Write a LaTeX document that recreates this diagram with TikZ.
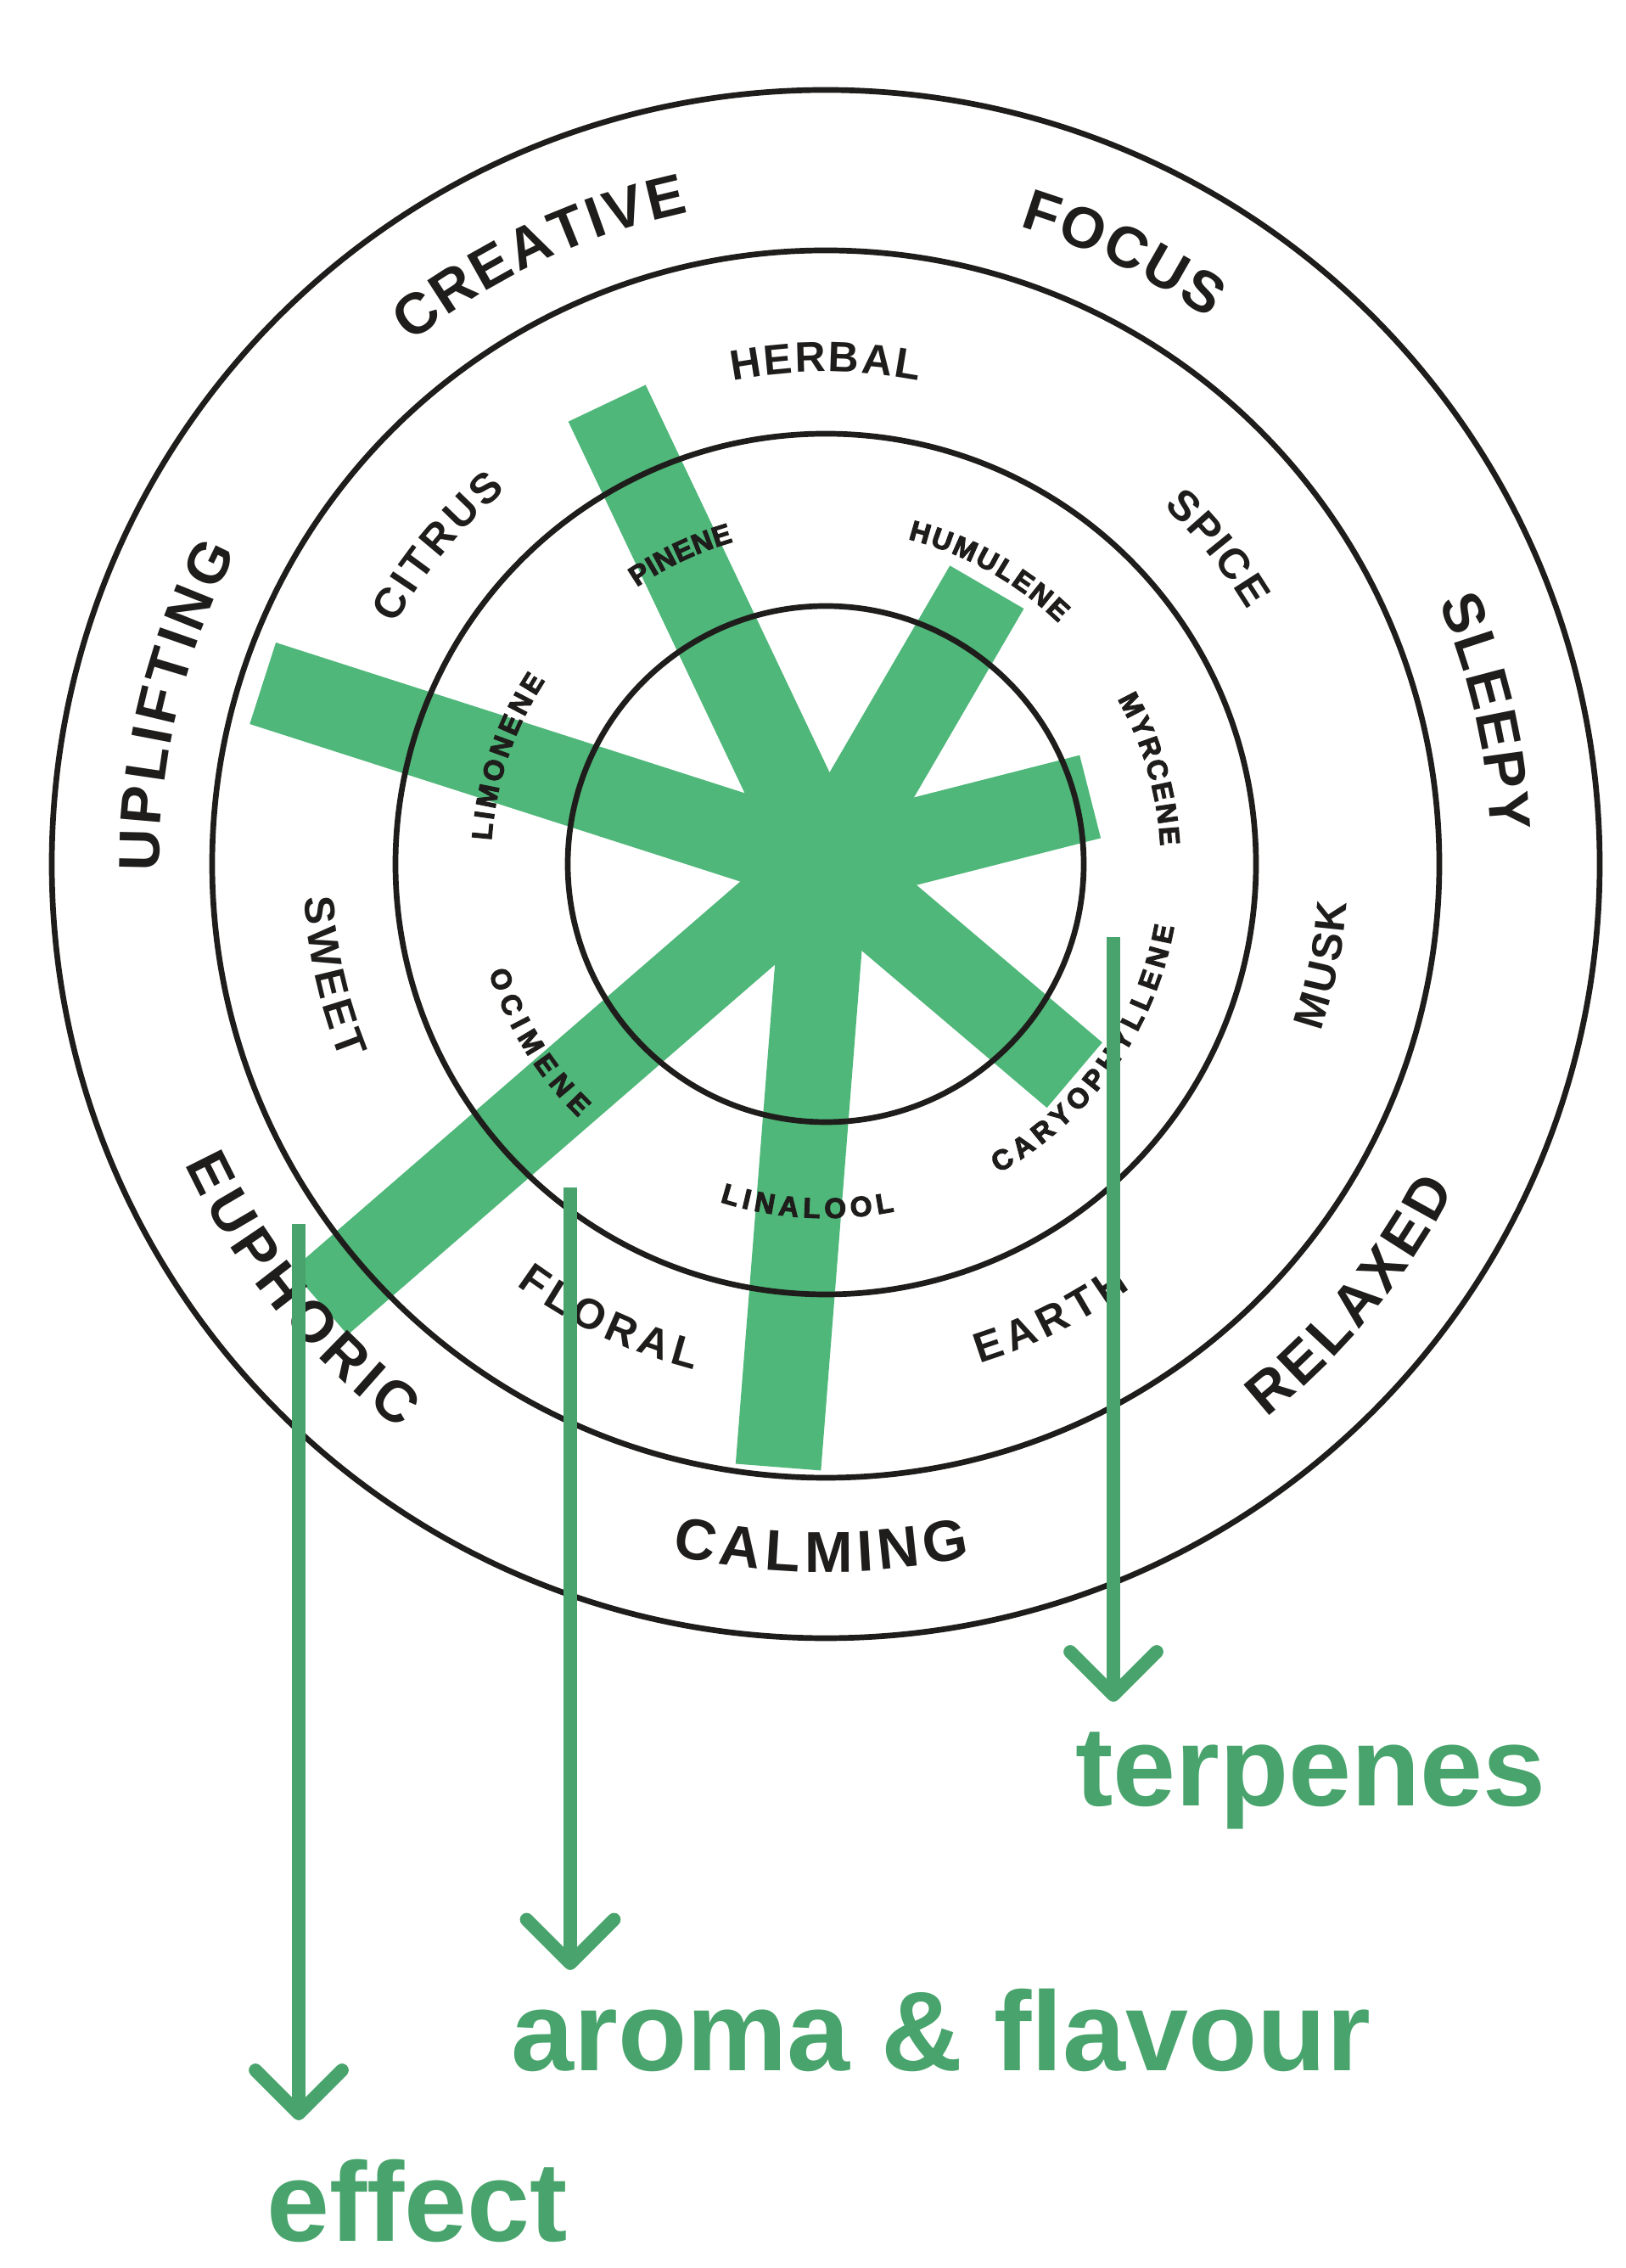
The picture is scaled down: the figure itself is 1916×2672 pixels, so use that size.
\documentclass[tikz,border=0pt]{standalone}
\usepackage{fontspec}
\setmainfont{Liberation Sans}
\newfontfamily\labfont{Liberation Sans}
\newfontfamily\terpfont{Liberation Sans}[BoldFeatures={FakeBold=3.5}]
\usetikzlibrary{decorations.text}
\definecolor{ink}{HTML}{1F1D1B}
\definecolor{stargreen}{HTML}{4FB779}
\definecolor{arrowgreen}{HTML}{48A46C}
\newcommand{\ringAfont}{\labfont\bfseries\fontsize{34}{34}\selectfont}
\newcommand{\ringBfont}{\labfont\bfseries\fontsize{25}{25}\selectfont}
\newcommand{\ringCfont}{\terpfont\bfseries\fontsize{16.5}{16.5}\selectfont}
\newcommand{\arclabel}[5]{%
  \path[decorate, decoration={text along path, text={|#1|#5}, text align={fit to path}, text color=ink}]
    (#3:#2) arc[start angle=#3, end angle=#4, radius=#2];}
\tikzset{
  ring/.style={draw=ink, line width=3.35pt},
  arm/.style={draw=stargreen, line width=50.4pt, line cap=butt},
  pointer/.style={draw=arrowgreen, line width=7.85pt, line cap=butt},
  chevron/.style={draw=arrowgreen, line width=7.85pt, line cap=round, line join=round},
  caption/.style={anchor=base west, inner sep=0pt, text=arrowgreen,
    font=\labfont\bfseries\fontsize{66.5}{66.5}\selectfont}
}
\begin{document}
\begin{tikzpicture}[x=0.5pt, y=0.5pt]
\fill[white] (0,0) rectangle (1916,2672);
\path[use as bounding box] (0,0) rectangle (1916,2672);
\begin{scope}[shift={(973,1654)}]
  \coordinate (C) at (0,0);
  % star
  \draw[arm] (C) -- (115.4:601) coordinate (pinEnd);
  \draw[arm] (C) -- (59.8:377.5) coordinate (humEnd);
  \draw[arm] (C) -- (14.3:321.6) coordinate (myrEnd);
  \draw[arm] (C) -- (-40.3:384.5) coordinate (carEnd);
  \draw[arm] (C) -- (-94.5:712.7) coordinate (linEnd);
  \draw[arm] (C) -- (220.9:789) coordinate (ociEnd);
  \draw[arm] (C) -- (162.2:696.7) coordinate (limEnd);
  % rings
  \draw[ring] (C) circle[radius=912];
  \draw[ring] (C) circle[radius=723];
  \draw[ring] (C) circle[radius=507];
  \draw[ring] (C) circle[radius=304];
  % effect ring
  \arclabel{\ringAfont}{785}{128.5}{101.9}{CREATIVE}
  \arclabel{\ringAfont}{785}{73.1}{54.9}{FOCUS}
  \arclabel{\ringAfont}{785}{23.1}{2.8}{SLEEPY}
  \arclabel{\ringAfont}{785}{180.6}{152.1}{UPLIFTING}
  \arclabel{\ringAfont}{834}{-51.5}{-27.3}{RELAXED}
  \arclabel{\ringAfont}{834}{-102.6}{-78.2}{CALMING}
  \arclabel{\ringAfont}{834}{205.1}{233}{EUPHORIC}
  % aroma ring
  \arclabel{\ringBfont}{580}{100.85}{79.1}{HERBAL}
  \arclabel{\ringBfont}{580}{46.6}{31.05}{SPICE}
  \arclabel{\ringBfont}{580}{150.9}{130.5}{CITRUS}
  \arclabel{\ringBfont}{616}{-18.7}{-4.2}{MUSK}
  \arclabel{\ringBfont}{616}{-72.9}{-54.3}{EARTH}
  \arclabel{\ringBfont}{616}{-126.3}{-104.6}{FLORAL}
  \arclabel{\ringBfont}{616}{183.7}{202}{SWEET}
  % terpene ring
  \arclabel{\ringCfont}{395}{124.3}{106.0}{PINENE}
  \arclabel{\ringCfont}{395}{75.8}{46.0}{HUMULENE}
  \arclabel{\ringCfont}{395}{29.5}{3.1}{MYRCENE}
  \arclabel{\ringCfont}{395}{176}{146.8}{LIMONENE}
  \arclabel{\ringCfont}{417}{-60.8}{-10.2}{CARYOPHYLLENE}
  \arclabel{\ringCfont}{417}{-107.4}{-78.8}{LINALOOL}
  \arclabel{\ringCfont}{417}{197.8}{225.7}{OCIMENE}
\end{scope}
% captions
\node[caption] (terp) at (1267,544) {terpenes};
\node[caption] (aroma) at (602,232) {aroma \& flavour};
\node[caption] (eff) at (314,32) {effect};
% pointers
\coordinate (tTop) at (1312,1568); \coordinate (tTip) at (1312,675);
\coordinate (aTop) at (672,1273);  \coordinate (aTip) at (672,359);
\coordinate (eTop) at (352,1230);  \coordinate (eTip) at (352,182);
\draw[pointer] (tTop) -- (tTip);
\draw[chevron] (tTip) ++(-51,51) -- (tTip) -- ++(51,51);
\draw[pointer] (aTop) -- (aTip);
\draw[chevron] (aTip) ++(-51.5,51.5) -- (aTip) -- ++(51.5,51.5);
\draw[pointer] (eTop) -- (eTip);
\draw[chevron] (eTip) ++(-51,51) -- (eTip) -- ++(51,51);
\end{tikzpicture}
\end{document}
